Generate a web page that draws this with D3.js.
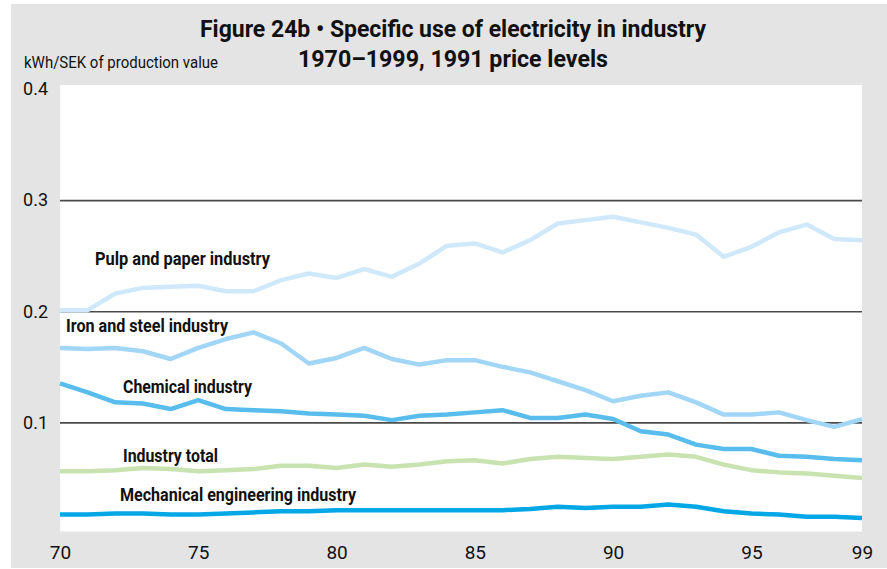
<!DOCTYPE html>
<html>
<head>
<meta charset="utf-8">
<script src="https://cdn.jsdelivr.net/npm/d3@7"></script>
<style>
  body { margin: 0; background: #fff; }
  text { font-family: Roboto, "Liberation Sans", sans-serif; fill: #111; }
</style>
</head>
<body>
<div id="chartArea"></div>
<script>
let years = d3.range(1970, 2000)

let pulpPaper = [0.201, 0.201, 0.216, 0.221, 0.222, 0.223, 0.218, 0.218, 0.228, 0.234,
                 0.230, 0.238, 0.231, 0.243, 0.259, 0.261, 0.253, 0.264, 0.279, 0.282,
                 0.285, 0.280, 0.275, 0.269, 0.249, 0.258, 0.271, 0.278, 0.265, 0.264]
let ironSteel = [0.167, 0.166, 0.167, 0.164, 0.157, 0.167, 0.175, 0.181, 0.171, 0.153,
                 0.158, 0.167, 0.157, 0.152, 0.156, 0.156, 0.150, 0.145, 0.137, 0.129,
                 0.119, 0.124, 0.127, 0.118, 0.107, 0.107, 0.109, 0.102, 0.096, 0.103]
let chemical  = [0.135, 0.127, 0.118, 0.117, 0.112, 0.120, 0.112, 0.111, 0.110, 0.108,
                 0.107, 0.106, 0.102, 0.106, 0.107, 0.109, 0.111, 0.104, 0.104, 0.107,
                 0.103, 0.092, 0.089, 0.080, 0.076, 0.076, 0.070, 0.069, 0.067, 0.066]
let industryTotal = [0.056, 0.056, 0.057, 0.059, 0.058, 0.056, 0.057, 0.058, 0.061, 0.061,
                 0.059, 0.062, 0.060, 0.062, 0.065, 0.066, 0.063, 0.067, 0.069, 0.068,
                 0.067, 0.069, 0.071, 0.069, 0.062, 0.057, 0.055, 0.054, 0.052, 0.050]
let mechanical = [0.017, 0.017, 0.018, 0.018, 0.017, 0.017, 0.018, 0.019, 0.020, 0.020,
                 0.021, 0.021, 0.021, 0.021, 0.021, 0.021, 0.021, 0.022, 0.024, 0.023,
                 0.024, 0.024, 0.026, 0.024, 0.020, 0.018, 0.017, 0.015, 0.015, 0.014]

let yTicks = [0.1, 0.2, 0.3, 0.4]
let xTicks = [1970, 1975, 1980, 1985, 1990, 1995, 1999]

let series = [
  { name: 'Pulp and paper industry', values: pulpPaper, color: '#cfe9fa', lx: 95, ly: 265, w: 175 },
  { name: 'Iron and steel industry', values: ironSteel, color: '#a2d6f6', lx: 66, ly: 332, w: 162 },
  { name: 'Chemical industry', values: chemical, color: '#58bdec', lx: 123, ly: 393, w: 129 },
  { name: 'Industry total', values: industryTotal, color: '#c8e3b0', lx: 123, ly: 462, w: 95 },
  { name: 'Mechanical engineering industry', values: mechanical, color: '#03a7e6', lx: 120, ly: 501, w: 236 }
]

let svgWidth = 887
let svgHeight = 569

let xScale = d3.scaleLinear()
              .domain([1970, 1999])
              .range([60, 862])

let yScale = d3.scaleLinear()
              .domain([0, 0.4])
              .range([533.5, 89])

let svg = d3.select('#chartArea')
    .append('svg')
    .attr('width', svgWidth)
    .attr('height', svgHeight)

// grey panel + white plot area
svg.append('rect')
    .attr('x', 11).attr('y', 4)
    .attr('width', svgWidth - 11).attr('height', 564)
    .attr('fill', '#e4e4e4')

svg.append('rect')
    .attr('x', xScale(1970)).attr('y', yScale(0.4) - 4)
    .attr('width', xScale(1999) - xScale(1970))
    .attr('height', yScale(0) - 2 - (yScale(0.4) - 4))
    .attr('fill', '#fff')

// titles (original face is a condensed one, so squeeze to the measured widths)
svg.append('text')
    .attr('x', 200).attr('y', 37)
    .attr('textLength', 506).attr('lengthAdjust', 'spacingAndGlyphs')
    .style('font-size', '24px').style('font-weight', 'bold')
    .text('Figure 24b \u2022 Specific use of electricity in industry')

svg.append('text')
    .attr('x', 298).attr('y', 67)
    .attr('textLength', 310).attr('lengthAdjust', 'spacingAndGlyphs')
    .style('font-size', '24px').style('font-weight', 'bold')
    .text('1970\u20131999, 1991 price levels')

svg.append('text')
    .attr('x', 24).attr('y', 68)
    .attr('textLength', 194).attr('lengthAdjust', 'spacingAndGlyphs')
    .style('font-size', '16px')
    .text('kWh/SEK of production value')

// gridlines
svg.append('g')
    .attr('transform', `translate(${xScale(1970)},0)`)
    .call(d3.axisLeft(yScale).tickValues([0.1, 0.2, 0.3])
      .tickSize(-(xScale(1999) - xScale(1970))).tickFormat(''))
    .call(g => g.select('.domain').remove())
    .selectAll('line')
    .attr('stroke', '#4a4a4a')
    .attr('stroke-width', 1.6)

// y axis labels
svg.append('g')
    .attr('transform', 'translate(48,0)')
    .call(d3.axisLeft(yScale).tickValues(yTicks).tickSize(0).tickPadding(0)
      .tickFormat(d3.format('.1f')))
    .call(g => g.select('.domain').remove())
    .selectAll('text')
    .style('font-size', '18px')
    .attr('fill', '#222')

// x axis labels
svg.append('g')
    .attr('transform', 'translate(0,545)')
    .call(d3.axisBottom(xScale).tickValues(xTicks).tickSize(0).tickPadding(0)
      .tickFormat(d => String(d).slice(2)))
    .call(g => g.select('.domain').remove())
    .selectAll('text')
    .style('font-size', '19px')
    .attr('fill', '#222')

svg.selectAll('.tick text').attr('font-family', null)

// lines
let line = d3.line()
    .x((d, i) => xScale(years[i]))
    .y(d => yScale(d))

svg.selectAll('path.series')
    .data(series)
    .enter()
    .append('path')
    .attr('class', 'series')
    .attr('d', d => line(d.values))
    .attr('fill', 'none')
    .attr('stroke', d => d.color)
    .attr('stroke-width', 4.5)
    .attr('stroke-linejoin', 'round')

svg.selectAll('text.label')
    .data(series)
    .enter()
    .append('text')
    .attr('class', 'label')
    .attr('x', d => d.lx)
    .attr('y', d => d.ly)
    .attr('textLength', d => d.w)
    .attr('lengthAdjust', 'spacingAndGlyphs')
    .style('font-size', '18px')
    .style('font-weight', 'bold')
    .text(d => d.name)
</script>
</body>
</html>
